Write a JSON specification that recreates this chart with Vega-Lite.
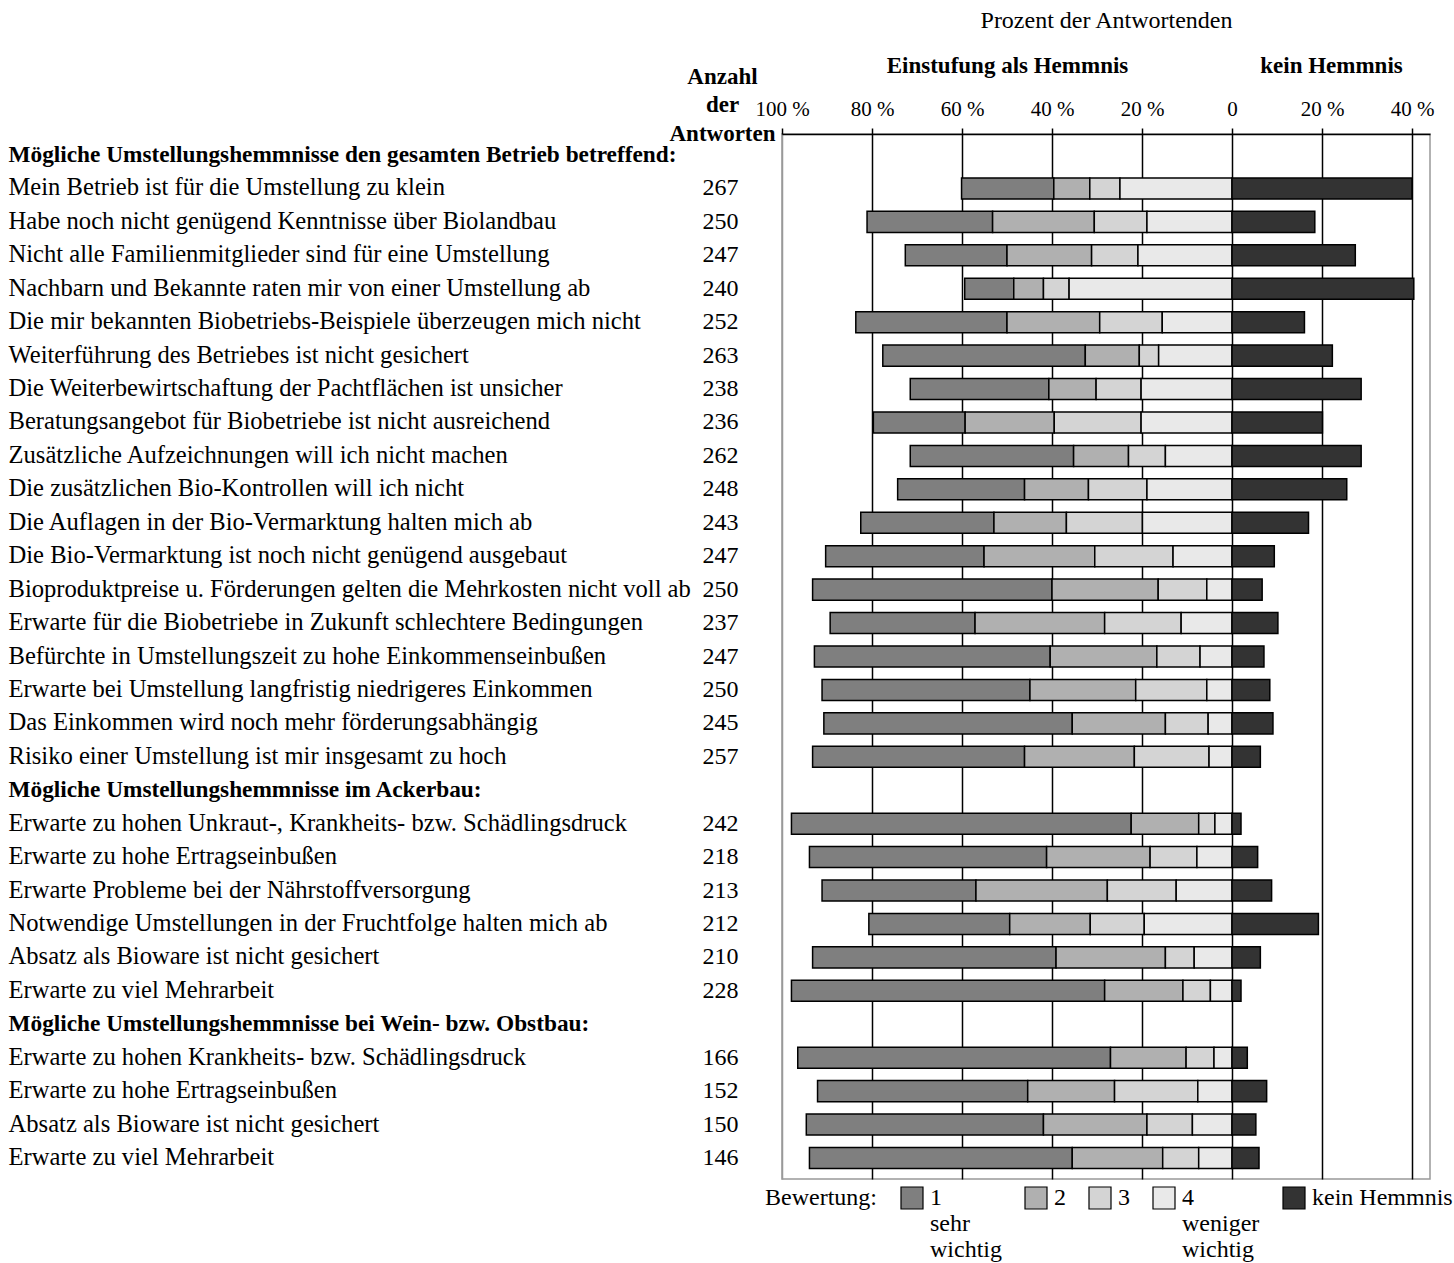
{
  "$schema": "https://vega.github.io/schema/vega-lite/v6.json",
  "width": 648,
  "height": 1045,
  "padding": {"left": 8, "top": 8, "right": 0, "bottom": 0},
  "config": {
    "font": "Liberation Serif",
    "view": {"stroke": "#999999", "strokeWidth": 1.5},
    "axis": {"labelColor": "black", "titleColor": "black", "labelOverlap": false, "labelFlush": false},
    "legend": {"labelColor": "black", "titleColor": "black"}
  },
  "data": {"values": [
    {"k": "Mein Betrieb ist für die Umstellung zu klein|267", "c": "1", "v": -20.5},
    {"k": "Mein Betrieb ist für die Umstellung zu klein|267", "c": "2", "v": -8},
    {"k": "Mein Betrieb ist für die Umstellung zu klein|267", "c": "3", "v": -6.7},
    {"k": "Mein Betrieb ist für die Umstellung zu klein|267", "c": "4", "v": -24.9},
    {"k": "Mein Betrieb ist für die Umstellung zu klein|267", "c": "kein Hemmnis", "v": 40},
    {"k": "Habe noch nicht genügend Kenntnisse über Biolandbau|250", "c": "1", "v": -27.9},
    {"k": "Habe noch nicht genügend Kenntnisse über Biolandbau|250", "c": "2", "v": -22.6},
    {"k": "Habe noch nicht genügend Kenntnisse über Biolandbau|250", "c": "3", "v": -11.7},
    {"k": "Habe noch nicht genügend Kenntnisse über Biolandbau|250", "c": "4", "v": -18.9},
    {"k": "Habe noch nicht genügend Kenntnisse über Biolandbau|250", "c": "kein Hemmnis", "v": 18.4},
    {"k": "Nicht alle Familienmitglieder sind für eine Umstellung|247", "c": "1", "v": -22.6},
    {"k": "Nicht alle Familienmitglieder sind für eine Umstellung|247", "c": "2", "v": -18.8},
    {"k": "Nicht alle Familienmitglieder sind für eine Umstellung|247", "c": "3", "v": -10.3},
    {"k": "Nicht alle Familienmitglieder sind für eine Umstellung|247", "c": "4", "v": -20.9},
    {"k": "Nicht alle Familienmitglieder sind für eine Umstellung|247", "c": "kein Hemmnis", "v": 27.4},
    {"k": "Nachbarn und Bekannte raten mir von einer Umstellung ab|240", "c": "1", "v": -10.9},
    {"k": "Nachbarn und Bekannte raten mir von einer Umstellung ab|240", "c": "2", "v": -6.6},
    {"k": "Nachbarn und Bekannte raten mir von einer Umstellung ab|240", "c": "3", "v": -5.7},
    {"k": "Nachbarn und Bekannte raten mir von einer Umstellung ab|240", "c": "4", "v": -36.2},
    {"k": "Nachbarn und Bekannte raten mir von einer Umstellung ab|240", "c": "kein Hemmnis", "v": 40.4},
    {"k": "Die mir bekannten Biobetriebs-Beispiele überzeugen mich nicht|252", "c": "1", "v": -33.6},
    {"k": "Die mir bekannten Biobetriebs-Beispiele überzeugen mich nicht|252", "c": "2", "v": -20.6},
    {"k": "Die mir bekannten Biobetriebs-Beispiele überzeugen mich nicht|252", "c": "3", "v": -13.9},
    {"k": "Die mir bekannten Biobetriebs-Beispiele überzeugen mich nicht|252", "c": "4", "v": -15.5},
    {"k": "Die mir bekannten Biobetriebs-Beispiele überzeugen mich nicht|252", "c": "kein Hemmnis", "v": 16.1},
    {"k": "Weiterführung des Betriebes ist nicht gesichert|263", "c": "1", "v": -45},
    {"k": "Weiterführung des Betriebes ist nicht gesichert|263", "c": "2", "v": -12},
    {"k": "Weiterführung des Betriebes ist nicht gesichert|263", "c": "3", "v": -4.3},
    {"k": "Weiterführung des Betriebes ist nicht gesichert|263", "c": "4", "v": -16.3},
    {"k": "Weiterführung des Betriebes ist nicht gesichert|263", "c": "kein Hemmnis", "v": 22.3},
    {"k": "Die Weiterbewirtschaftung der Pachtflächen ist unsicher|238", "c": "1", "v": -30.8},
    {"k": "Die Weiterbewirtschaftung der Pachtflächen ist unsicher|238", "c": "2", "v": -10.5},
    {"k": "Die Weiterbewirtschaftung der Pachtflächen ist unsicher|238", "c": "3", "v": -10},
    {"k": "Die Weiterbewirtschaftung der Pachtflächen ist unsicher|238", "c": "4", "v": -20.2},
    {"k": "Die Weiterbewirtschaftung der Pachtflächen ist unsicher|238", "c": "kein Hemmnis", "v": 28.7},
    {"k": "Beratungsangebot für Biobetriebe ist nicht ausreichend|236", "c": "1", "v": -20.4},
    {"k": "Beratungsangebot für Biobetriebe ist nicht ausreichend|236", "c": "2", "v": -19.8},
    {"k": "Beratungsangebot für Biobetriebe ist nicht ausreichend|236", "c": "3", "v": -19.3},
    {"k": "Beratungsangebot für Biobetriebe ist nicht ausreichend|236", "c": "4", "v": -20.2},
    {"k": "Beratungsangebot für Biobetriebe ist nicht ausreichend|236", "c": "kein Hemmnis", "v": 20.1},
    {"k": "Zusätzliche Aufzeichnungen will ich nicht machen|262", "c": "1", "v": -36.3},
    {"k": "Zusätzliche Aufzeichnungen will ich nicht machen|262", "c": "2", "v": -12.2},
    {"k": "Zusätzliche Aufzeichnungen will ich nicht machen|262", "c": "3", "v": -8.2},
    {"k": "Zusätzliche Aufzeichnungen will ich nicht machen|262", "c": "4", "v": -14.8},
    {"k": "Zusätzliche Aufzeichnungen will ich nicht machen|262", "c": "kein Hemmnis", "v": 28.7},
    {"k": "Die zusätzlichen Bio-Kontrollen will ich nicht|248", "c": "1", "v": -28.2},
    {"k": "Die zusätzlichen Bio-Kontrollen will ich nicht|248", "c": "2", "v": -14.2},
    {"k": "Die zusätzlichen Bio-Kontrollen will ich nicht|248", "c": "3", "v": -13},
    {"k": "Die zusätzlichen Bio-Kontrollen will ich nicht|248", "c": "4", "v": -18.9},
    {"k": "Die zusätzlichen Bio-Kontrollen will ich nicht|248", "c": "kein Hemmnis", "v": 25.5},
    {"k": "Die Auflagen in der Bio-Vermarktung halten mich ab|243", "c": "1", "v": -29.6},
    {"k": "Die Auflagen in der Bio-Vermarktung halten mich ab|243", "c": "2", "v": -16.1},
    {"k": "Die Auflagen in der Bio-Vermarktung halten mich ab|243", "c": "3", "v": -16.9},
    {"k": "Die Auflagen in der Bio-Vermarktung halten mich ab|243", "c": "4", "v": -19.9},
    {"k": "Die Auflagen in der Bio-Vermarktung halten mich ab|243", "c": "kein Hemmnis", "v": 17},
    {"k": "Die Bio-Vermarktung ist noch nicht genügend ausgebaut|247", "c": "1", "v": -35.2},
    {"k": "Die Bio-Vermarktung ist noch nicht genügend ausgebaut|247", "c": "2", "v": -24.6},
    {"k": "Die Bio-Vermarktung ist noch nicht genügend ausgebaut|247", "c": "3", "v": -17.4},
    {"k": "Die Bio-Vermarktung ist noch nicht genügend ausgebaut|247", "c": "4", "v": -13.1},
    {"k": "Die Bio-Vermarktung ist noch nicht genügend ausgebaut|247", "c": "kein Hemmnis", "v": 9.4},
    {"k": "Bioproduktpreise u. Förderungen gelten die Mehrkosten nicht voll ab|250", "c": "1", "v": -53.2},
    {"k": "Bioproduktpreise u. Förderungen gelten die Mehrkosten nicht voll ab|250", "c": "2", "v": -23.6},
    {"k": "Bioproduktpreise u. Förderungen gelten die Mehrkosten nicht voll ab|250", "c": "3", "v": -10.8},
    {"k": "Bioproduktpreise u. Förderungen gelten die Mehrkosten nicht voll ab|250", "c": "4", "v": -5.6},
    {"k": "Bioproduktpreise u. Förderungen gelten die Mehrkosten nicht voll ab|250", "c": "kein Hemmnis", "v": 6.7},
    {"k": "Erwarte für die Biobetriebe in Zukunft schlechtere Bedingungen|237", "c": "1", "v": -32.2},
    {"k": "Erwarte für die Biobetriebe in Zukunft schlechtere Bedingungen|237", "c": "2", "v": -28.8},
    {"k": "Erwarte für die Biobetriebe in Zukunft schlechtere Bedingungen|237", "c": "3", "v": -17},
    {"k": "Erwarte für die Biobetriebe in Zukunft schlechtere Bedingungen|237", "c": "4", "v": -11.3},
    {"k": "Erwarte für die Biobetriebe in Zukunft schlechtere Bedingungen|237", "c": "kein Hemmnis", "v": 10.2},
    {"k": "Befürchte in Umstellungszeit zu hohe Einkommenseinbußen|247", "c": "1", "v": -52.4},
    {"k": "Befürchte in Umstellungszeit zu hohe Einkommenseinbußen|247", "c": "2", "v": -23.7},
    {"k": "Befürchte in Umstellungszeit zu hohe Einkommenseinbußen|247", "c": "3", "v": -9.6},
    {"k": "Befürchte in Umstellungszeit zu hohe Einkommenseinbußen|247", "c": "4", "v": -7.1},
    {"k": "Befürchte in Umstellungszeit zu hohe Einkommenseinbußen|247", "c": "kein Hemmnis", "v": 7.1},
    {"k": "Erwarte bei Umstellung langfristig niedrigeres Einkommen|250", "c": "1", "v": -46.2},
    {"k": "Erwarte bei Umstellung langfristig niedrigeres Einkommen|250", "c": "2", "v": -23.5},
    {"k": "Erwarte bei Umstellung langfristig niedrigeres Einkommen|250", "c": "3", "v": -15.8},
    {"k": "Erwarte bei Umstellung langfristig niedrigeres Einkommen|250", "c": "4", "v": -5.6},
    {"k": "Erwarte bei Umstellung langfristig niedrigeres Einkommen|250", "c": "kein Hemmnis", "v": 8.4},
    {"k": "Das Einkommen wird noch mehr förderungsabhängig|245", "c": "1", "v": -55.2},
    {"k": "Das Einkommen wird noch mehr förderungsabhängig|245", "c": "2", "v": -20.7},
    {"k": "Das Einkommen wird noch mehr förderungsabhängig|245", "c": "3", "v": -9.5},
    {"k": "Das Einkommen wird noch mehr förderungsabhängig|245", "c": "4", "v": -5.3},
    {"k": "Das Einkommen wird noch mehr förderungsabhängig|245", "c": "kein Hemmnis", "v": 9.1},
    {"k": "Risiko einer Umstellung ist mir insgesamt zu hoch|257", "c": "1", "v": -47.1},
    {"k": "Risiko einer Umstellung ist mir insgesamt zu hoch|257", "c": "2", "v": -24.4},
    {"k": "Risiko einer Umstellung ist mir insgesamt zu hoch|257", "c": "3", "v": -16.6},
    {"k": "Risiko einer Umstellung ist mir insgesamt zu hoch|257", "c": "4", "v": -5.1},
    {"k": "Risiko einer Umstellung ist mir insgesamt zu hoch|257", "c": "kein Hemmnis", "v": 6.3},
    {"k": "Erwarte zu hohen Unkraut-, Krankheits- bzw. Schädlingsdruck|242", "c": "1", "v": -75.5},
    {"k": "Erwarte zu hohen Unkraut-, Krankheits- bzw. Schädlingsdruck|242", "c": "2", "v": -15},
    {"k": "Erwarte zu hohen Unkraut-, Krankheits- bzw. Schädlingsdruck|242", "c": "3", "v": -3.6},
    {"k": "Erwarte zu hohen Unkraut-, Krankheits- bzw. Schädlingsdruck|242", "c": "4", "v": -3.8},
    {"k": "Erwarte zu hohen Unkraut-, Krankheits- bzw. Schädlingsdruck|242", "c": "kein Hemmnis", "v": 2},
    {"k": "Erwarte zu hohe Ertragseinbußen|218", "c": "1", "v": -52.7},
    {"k": "Erwarte zu hohe Ertragseinbußen|218", "c": "2", "v": -23},
    {"k": "Erwarte zu hohe Ertragseinbußen|218", "c": "3", "v": -10.4},
    {"k": "Erwarte zu hohe Ertragseinbußen|218", "c": "4", "v": -7.8},
    {"k": "Erwarte zu hohe Ertragseinbußen|218", "c": "kein Hemmnis", "v": 5.7},
    {"k": "Erwarte Probleme bei der Nährstoffversorgung|213", "c": "1", "v": -34.2},
    {"k": "Erwarte Probleme bei der Nährstoffversorgung|213", "c": "2", "v": -29.2},
    {"k": "Erwarte Probleme bei der Nährstoffversorgung|213", "c": "3", "v": -15.3},
    {"k": "Erwarte Probleme bei der Nährstoffversorgung|213", "c": "4", "v": -12.4},
    {"k": "Erwarte Probleme bei der Nährstoffversorgung|213", "c": "kein Hemmnis", "v": 8.8},
    {"k": "Notwendige Umstellungen in der Fruchtfolge halten mich ab|212", "c": "1", "v": -31.3},
    {"k": "Notwendige Umstellungen in der Fruchtfolge halten mich ab|212", "c": "2", "v": -17.9},
    {"k": "Notwendige Umstellungen in der Fruchtfolge halten mich ab|212", "c": "3", "v": -12},
    {"k": "Notwendige Umstellungen in der Fruchtfolge halten mich ab|212", "c": "4", "v": -19.5},
    {"k": "Notwendige Umstellungen in der Fruchtfolge halten mich ab|212", "c": "kein Hemmnis", "v": 19.2},
    {"k": "Absatz als Bioware ist nicht gesichert|210", "c": "1", "v": -54.1},
    {"k": "Absatz als Bioware ist nicht gesichert|210", "c": "2", "v": -24.3},
    {"k": "Absatz als Bioware ist nicht gesichert|210", "c": "3", "v": -6.4},
    {"k": "Absatz als Bioware ist nicht gesichert|210", "c": "4", "v": -8.4},
    {"k": "Absatz als Bioware ist nicht gesichert|210", "c": "kein Hemmnis", "v": 6.3},
    {"k": "Erwarte zu viel Mehrarbeit|228", "c": "1", "v": -69.6},
    {"k": "Erwarte zu viel Mehrarbeit|228", "c": "2", "v": -17.4},
    {"k": "Erwarte zu viel Mehrarbeit|228", "c": "3", "v": -6.1},
    {"k": "Erwarte zu viel Mehrarbeit|228", "c": "4", "v": -4.8},
    {"k": "Erwarte zu viel Mehrarbeit|228", "c": "kein Hemmnis", "v": 2},
    {"k": "Erwarte zu hohen Krankheits- bzw. Schädlingsdruck|166", "c": "1", "v": -69.5},
    {"k": "Erwarte zu hohen Krankheits- bzw. Schädlingsdruck|166", "c": "2", "v": -16.8},
    {"k": "Erwarte zu hohen Krankheits- bzw. Schädlingsdruck|166", "c": "3", "v": -6.2},
    {"k": "Erwarte zu hohen Krankheits- bzw. Schädlingsdruck|166", "c": "4", "v": -4},
    {"k": "Erwarte zu hohen Krankheits- bzw. Schädlingsdruck|166", "c": "kein Hemmnis", "v": 3.4},
    {"k": "Erwarte zu hohe Ertragseinbußen|152", "c": "1", "v": -46.7},
    {"k": "Erwarte zu hohe Ertragseinbußen|152", "c": "2", "v": -19.3},
    {"k": "Erwarte zu hohe Ertragseinbußen|152", "c": "3", "v": -18.5},
    {"k": "Erwarte zu hohe Ertragseinbußen|152", "c": "4", "v": -7.6},
    {"k": "Erwarte zu hohe Ertragseinbußen|152", "c": "kein Hemmnis", "v": 7.7},
    {"k": "Absatz als Bioware ist nicht gesichert|150", "c": "1", "v": -52.7},
    {"k": "Absatz als Bioware ist nicht gesichert|150", "c": "2", "v": -23},
    {"k": "Absatz als Bioware ist nicht gesichert|150", "c": "3", "v": -10.1},
    {"k": "Absatz als Bioware ist nicht gesichert|150", "c": "4", "v": -8.8},
    {"k": "Absatz als Bioware ist nicht gesichert|150", "c": "kein Hemmnis", "v": 5.3},
    {"k": "Erwarte zu viel Mehrarbeit|146", "c": "1", "v": -58.4},
    {"k": "Erwarte zu viel Mehrarbeit|146", "c": "2", "v": -20.1},
    {"k": "Erwarte zu viel Mehrarbeit|146", "c": "3", "v": -8},
    {"k": "Erwarte zu viel Mehrarbeit|146", "c": "4", "v": -7.4},
    {"k": "Erwarte zu viel Mehrarbeit|146", "c": "kein Hemmnis", "v": 6}
  ]},
  "layer": [
    {
      "mark": {"type": "bar", "stroke": "black", "strokeWidth": 1.5},
      "encoding": {
        "y": {
          "field": "k", "type": "nominal",
          "scale": {
            "domain": [
              "Mögliche Umstellungshemmnisse den gesamten Betrieb betreffend:|",
              "Mein Betrieb ist für die Umstellung zu klein|267",
              "Habe noch nicht genügend Kenntnisse über Biolandbau|250",
              "Nicht alle Familienmitglieder sind für eine Umstellung|247",
              "Nachbarn und Bekannte raten mir von einer Umstellung ab|240",
              "Die mir bekannten Biobetriebs-Beispiele überzeugen mich nicht|252",
              "Weiterführung des Betriebes ist nicht gesichert|263",
              "Die Weiterbewirtschaftung der Pachtflächen ist unsicher|238",
              "Beratungsangebot für Biobetriebe ist nicht ausreichend|236",
              "Zusätzliche Aufzeichnungen will ich nicht machen|262",
              "Die zusätzlichen Bio-Kontrollen will ich nicht|248",
              "Die Auflagen in der Bio-Vermarktung halten mich ab|243",
              "Die Bio-Vermarktung ist noch nicht genügend ausgebaut|247",
              "Bioproduktpreise u. Förderungen gelten die Mehrkosten nicht voll ab|250",
              "Erwarte für die Biobetriebe in Zukunft schlechtere Bedingungen|237",
              "Befürchte in Umstellungszeit zu hohe Einkommenseinbußen|247",
              "Erwarte bei Umstellung langfristig niedrigeres Einkommen|250",
              "Das Einkommen wird noch mehr förderungsabhängig|245",
              "Risiko einer Umstellung ist mir insgesamt zu hoch|257",
              "Mögliche Umstellungshemmnisse im Ackerbau:|",
              "Erwarte zu hohen Unkraut-, Krankheits- bzw. Schädlingsdruck|242",
              "Erwarte zu hohe Ertragseinbußen|218",
              "Erwarte Probleme bei der Nährstoffversorgung|213",
              "Notwendige Umstellungen in der Fruchtfolge halten mich ab|212",
              "Absatz als Bioware ist nicht gesichert|210",
              "Erwarte zu viel Mehrarbeit|228",
              "Mögliche Umstellungshemmnisse bei Wein- bzw. Obstbau:|",
              "Erwarte zu hohen Krankheits- bzw. Schädlingsdruck|166",
              "Erwarte zu hohe Ertragseinbußen|152",
              "Absatz als Bioware ist nicht gesichert|150",
              "Erwarte zu viel Mehrarbeit|146"
            ],
            "paddingInner": 0.37, "paddingOuter": 0.314
          },
          "axis": {
            "orient": "left", "title": null, "ticks": false, "tickSize": 0, "domain": false, "grid": false,
            "labelAlign": "left", "labelPadding": 774, "labelLimit": 0,
            "labelExpr": "split(datum.value, '|')[0]",
            "labelFontSize": {"condition": {"test": "indexof(datum.value, 'Mögliche') == 0", "value": 23.3}, "value": 24.6},
            "labelFontWeight": {"condition": {"test": "indexof(datum.value, 'Mögliche') == 0", "value": "bold"}, "value": "normal"}
          }
        },
        "x": {
          "field": "v", "type": "quantitative",
          "scale": {"domain": [-100, 44], "nice": false, "zero": false},
          "axis": {
            "orient": "top", "title": null, "values": [-100, -80, -60, -40, -20, 0, 20, 40],
            "labelExpr": "datum.value == 0 ? '0' : abs(datum.value) + ' %'",
            "grid": true, "gridWidth": 1.5, "gridOpacity": 1,
            "gridColor": {"condition": {"test": "datum.value == -100", "value": "#999999"}, "value": "black"},
            "domainColor": "black", "domainWidth": 1.5,
            "tickColor": "black", "tickSize": 6, "tickWidth": 1.5,
            "labelPadding": 9, "labelFontSize": 21, "labelLimit": 0
          }
        },
        "color": {
          "field": "c", "type": "nominal",
          "scale": {"domain": ["1", "2", "3", "4", "kein Hemmnis"], "range": ["#7f7f7f", "#b0b0b0", "#d4d4d4", "#e9e9e9", "#333333"]},
          "legend": {
            "orient": "none", "legendX": -17, "legendY": 1052, "direction": "horizontal", "columns": 5,
            "title": "Bewertung:", "titleOrient": "left", "titleAnchor": "start", "titleBaseline": "top",
            "titleFontSize": 24, "titleFontWeight": "normal", "titlePadding": 23,
            "labelFontSize": 24, "labelBaseline": "middle", "labelOffset": 6, "labelLimit": 0,
            "symbolType": "square", "symbolSize": 484,
            "symbolStrokeColor": "black", "symbolStrokeWidth": 1.2, "symbolOpacity": 1,
            "labelExpr": "datum.value == '1' ? ['1', 'sehr', 'wichtig'] : datum.value == '4' ? ['4', 'weniger', 'wichtig'] : [datum.label, '', '']",
            "columnPadding": 20
          }
        },
        "order": {"field": "c", "sort": "descending"}
      }
    },
    {
      "mark": {"type": "point", "opacity": 0, "size": 1},
      "encoding": {
        "y": {
          "field": "k", "type": "nominal",
          "axis": {
            "orient": "left", "ticks": false, "tickSize": 0, "domain": false, "grid": false,
            "labelAlign": "right", "labelPadding": 44, "labelLimit": 0, "labelFontSize": 24,
            "labelExpr": "split(datum.value, '|')[1]",
            "title": ["Anzahl", "der", "Antworten"], "titleAngle": 0, "titleAlign": "center", "titleBaseline": "middle",
            "titleX": -60, "titleY": -58, "titleFontSize": 23, "titleFontWeight": "bold", "titleLineHeight": 28.5
          }
        },
        "x": {
          "field": "v", "type": "quantitative",
          "scale": {"domain": [-100, 44], "nice": false, "zero": false},
          "axis": {
            "orient": "top", "values": [-50, 22],
            "labelExpr": "datum.value < 0 ? 'Einstufung als Hemmnis' : 'kein Hemmnis'",
            "ticks": false, "tickSize": 0, "domain": false, "grid": false,
            "labelFontWeight": "bold", "labelFontSize": 23, "labelPadding": 57, "labelLimit": 0,
            "title": "Prozent der Antwortenden", "titleFontWeight": "normal", "titleFontSize": 24, "titlePadding": 22
          }
        }
      }
    }
  ],
  "resolve": {"axis": {"x": "independent", "y": "independent"}}
}
